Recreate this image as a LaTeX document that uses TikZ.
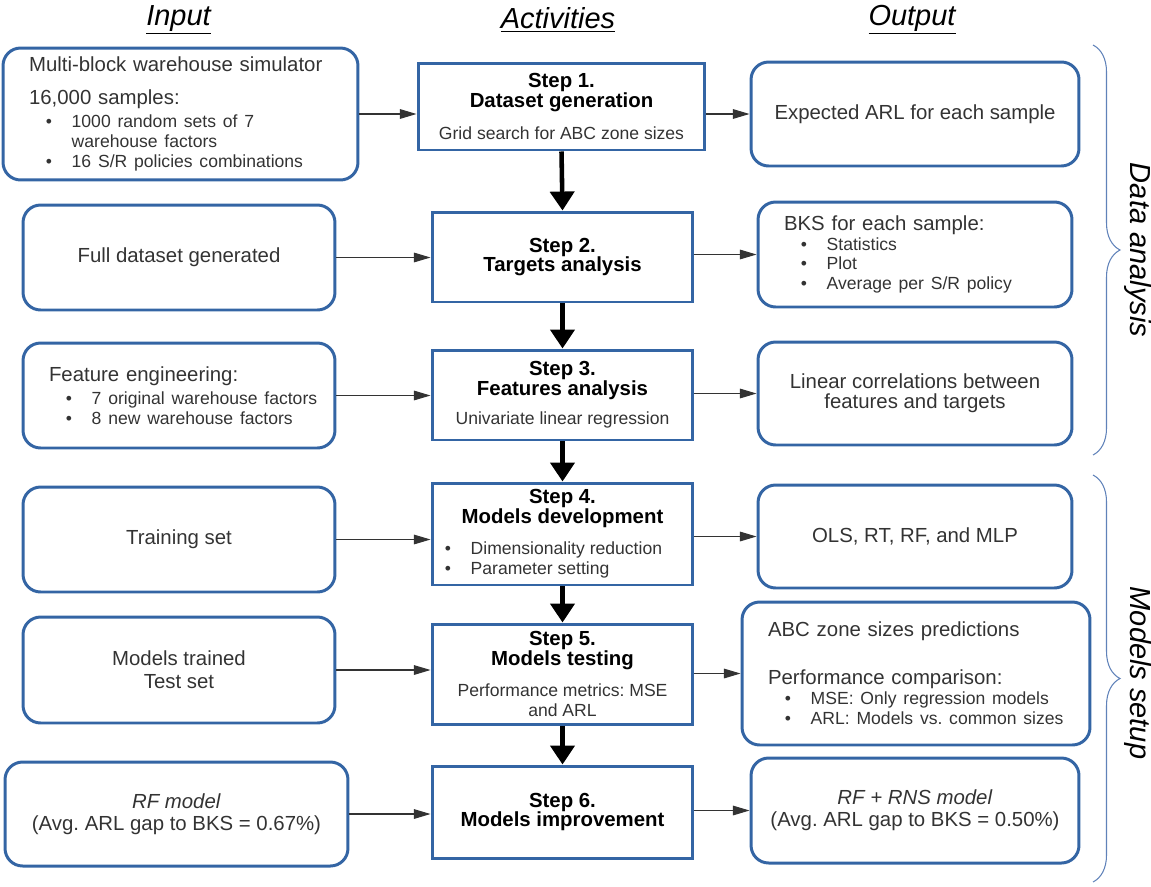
\documentclass[tikz,border=0pt]{standalone}
\usepackage{fontspec}
\setmainfont{Liberation Sans}
\usetikzlibrary{arrows.meta,decorations.pathreplacing}
\frenchspacing

\definecolor{boxblue}{RGB}{52,101,164}
\definecolor{bracecol}{RGB}{96,130,185}
\definecolor{txtgray}{RGB}{51,51,51}
\newcommand{\smalltxt}{\fontsize{10}{11.3}\selectfont}
\newcommand{\bitem}[1][0.96em]{\makebox[\dimexpr #1+1.47em\relax][l]{\hspace{#1}\textbullet}}
\newcommand{\bline}[1]{\mbox{\smalltxt\bitem #1}}
\newcommand{\bcont}{\hspace*{2.43em}}
\newcommand{\stp}[1]{\textcolor{black}{\textbf{#1}}}

\begin{document}
\begin{tikzpicture}[x=0.02cm,y=-0.02cm,
  every node/.style={font=\fontsize{11.6}{11.3}\selectfont, text=txtgray},
  inbox/.style={draw=boxblue, line width=1.7pt, rounded corners=10pt, align=center, inner sep=0pt},
  stepbox/.style={draw=boxblue, line width=1.7pt, align=center, inner sep=0pt},
  flow/.style={-{Triangle[length=10.8pt,width=13.6pt]}, line width=2.6pt},
  link/.style={-{Triangle[length=9.5pt,width=5.5pt]}, line width=0.6pt, draw=black!80},
  head/.style={font=\fontsize{16.5}{19}\selectfont\itshape, text=black},
  side/.style={font=\fontsize{16.5}{19}\selectfont\itshape, text=black, rotate=-90},
  brc/.style={decorate, decoration={brace, amplitude=0.54cm}, draw=bracecol, line width=0.6pt}]
\useasboundingbox (0,0) rectangle (1151,886);

% column headers
\node[head] (hin) at (178.5,20) {\underline{Input}};
\node[head] (hact) at (558,20) {\underline{Activities}};
\node[head] (hout) at (912,20) {\underline{Output}};

% input column
\node[inbox, minimum width=7.1cm, minimum height=2.64cm, align=left, text width=6.06cm] (l1) at (180.5,114)
  {Multi-block warehouse simulator\\[7pt]
   16,000 samples:\\[2pt]
   \bline{1000 random sets of 7}\\
   \mbox{\smalltxt\bcont warehouse factors}\\
   \bline{16 S/R policies combinations}};
\node[inbox, minimum width=6.24cm, minimum height=2.1cm] (l2) at (179,257.5) {Full dataset generated};
\node[inbox, minimum width=6.24cm, minimum height=2.1cm, align=left, text width=5.2cm] (l3) at (179,395.5)
  {Feature engineering:\\[2pt]
   \bline{7 original warehouse factors}\\
   \bline{8 new warehouse factors}};
\node[inbox, minimum width=6.24cm, minimum height=2.1cm] (l4) at (179,539.5) {Training set};
\node[inbox, minimum width=6.24cm, minimum height=2.12cm] (l5) at (179,670) {Models trained\\[2pt]Test set};
\node[inbox, minimum width=6.86cm, minimum height=2.08cm] (l6) at (176.5,814) {\textit{RF model}\\[1pt](Avg. ARL gap to BKS = 0.67\%)};

% activities column
\node[stepbox, minimum width=5.74cm, minimum height=1.74cm] (m1) at (561.5,106.5)
  {\stp{Step 1.}\\\stp{Dataset generation}\\[6.5pt]{\smalltxt Grid search for ABC zone sizes}};
\node[stepbox, minimum width=5.22cm, minimum height=1.8cm] (m2) at (562.5,257)
  {\stp{Step 2.}\\\stp{Targets analysis}};
\node[stepbox, minimum width=5.22cm, minimum height=1.8cm] (m3) at (562.5,395)
  {\stp{Step 3.}\\\stp{Features analysis}\\[5.5pt]{\smalltxt Univariate linear regression}};
\node[stepbox, minimum width=5.22cm, minimum height=2.04cm] (m4) at (562.5,534)
  {\stp{Step 4.}\\\stp{Models development}\\[6.5pt]
   \makebox[5.1cm][l]{\smalltxt\bitem[0.56em]Dimensionality reduction}\\
   \makebox[5.1cm][l]{\smalltxt\bitem[0.56em]Parameter setting}};
\node[stepbox, minimum width=5.22cm, minimum height=2.0cm] (m5) at (562.5,674)
  {\stp{Step 5.}\\\stp{Models testing}\\[6pt]{\smalltxt Performance metrics: MSE}\\{\smalltxt and ARL}};
\node[stepbox, minimum width=5.22cm, minimum height=1.84cm] (m6) at (562.5,812)
  {\stp{Step 6.}\\\stp{Models improvement}};

% output column
\node[inbox, minimum width=6.56cm, minimum height=2.08cm] (r1) at (915,114) {Expected ARL for each sample};
\node[inbox, minimum width=6.28cm, minimum height=2.1cm, align=left, text width=5.24cm] (r2) at (915,254.5)
  {BKS for each sample:\\
   \bline{Statistics}\\
   \bline{Plot}\\
   \bline{Average per S/R policy}};
\node[inbox, minimum width=6.28cm, minimum height=2.06cm] (r3) at (915,393.5) {Linear correlations between\\features and targets};
\node[inbox, minimum width=6.28cm, minimum height=2.06cm] (r4) at (915,536.5) {OLS, RT, RF, and MLP};
\node[inbox, minimum width=6.96cm, minimum height=2.86cm, align=left, text width=5.92cm] (r5) at (916,673.5)
  {ABC zone sizes predictions\\[16pt]
   Performance comparison:\\
   \bline{MSE: Only regression models}\\
   \bline{ARL: Models vs. common sizes}};
\node[inbox, minimum width=6.56cm, minimum height=2.1cm] (r6) at (915,810.5) {\textit{RF + RNS model}\\[1pt](Avg. ARL gap to BKS = 0.50\%)};

% connectors
\foreach \k in {1,...,6} {
  \draw[link] (l\k.east) -- (l\k.east -| m\k.west);
  \draw[link] (m\k.east |- r\k.west) -- (r\k.west);
}
\foreach \a/\b in {1/2,2/3,3/4,4/5,5/6}
  \draw[flow] (m\a.south) -- (m\b.north);

% phases
\draw[brc] (1093,45) coordinate (da1) -- (1093,455) coordinate (da2);
\draw[brc] (1093,475) coordinate (ms1) -- (1093,882) coordinate (ms2);
\node[side] (da) at (1138,250) {Data analysis};
\node[side] (ms) at (1138,673) {Models setup};
\end{tikzpicture}
\end{document}
